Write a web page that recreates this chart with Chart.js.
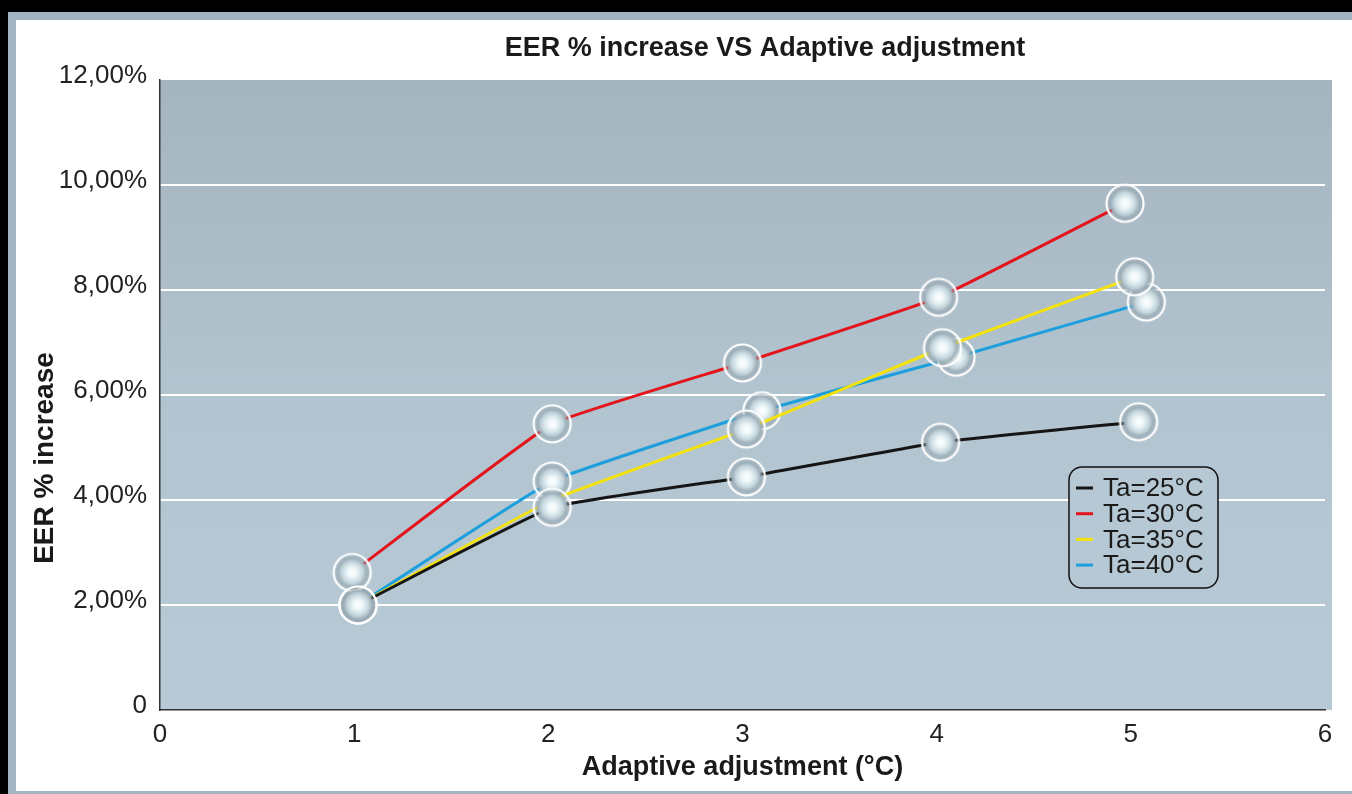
<!DOCTYPE html>
<html>
<head>
<meta charset="utf-8">
<script src="https://cdn.jsdelivr.net/npm/chart.js@4.4.1/dist/chart.umd.min.js"></script>
<style>
  body { margin: 0; background: #000; width: 1352px; height: 794px; overflow: hidden; }
  #frame { position: absolute; left: 8px; top: 12px; width: 1344px; height: 782px; background: #a3b5c2; }
  #panel { position: absolute; left: 8px; top: 8px; width: 1336px; height: 771px; background: #fff; }
</style>
</head>
<body>
<div id="frame"><div id="panel"><canvas id="myChart" width="1336" height="771"></canvas></div></div>
<script>
const chartTitle = 'EER % increase VS Adaptive adjustment';
const xTitle = 'Adaptive adjustment (°C)';
const yTitle = 'EER % increase';

const xTicks = [0, 1, 2, 3, 4, 5, 6];
const yTicks = [0, 2, 4, 6, 8, 10, 12];

const seriesLabels = ['Ta=25°C', 'Ta=30°C', 'Ta=35°C', 'Ta=40°C'];

// marker positions (x in °C, y in %)
const xTa25 = [1.02, 2.02, 3.02, 4.02, 5.04];
const yTa25 = [2.00, 3.86, 4.44, 5.10, 5.49];
const xTa30 = [0.99, 2.02, 3.00, 4.01, 4.97];
const yTa30 = [2.62, 5.45, 6.61, 7.86, 9.65];
const xTa35 = [1.02, 2.02, 3.02, 4.03, 5.02];
const yTa35 = [2.00, 4.00, 5.35, 6.90, 8.25];
const xTa40 = [1.02, 2.02, 3.10, 4.10, 5.08];
const yTa40 = [2.00, 4.36, 5.70, 6.72, 7.77];

const lineColors = ['#151515', '#e3141c', '#f4e20c', '#1c9fdc'];
const font = "'Liberation Sans', Arial, sans-serif";

function toPoints(xs, ys) {
  return xs.map((x, i) => ({ x: x, y: ys[i] }));
}

// glassy round marker
function makeMarker() {
  const c = document.createElement('canvas');
  c.width = 44; c.height = 44;
  const g = c.getContext('2d');
  g.beginPath(); g.arc(22, 22, 18, 0, Math.PI * 2);
  g.fillStyle = 'rgba(150,166,176,0.45)'; g.fill();
  const rg = g.createRadialGradient(22, 22, 0, 22, 22, 15);
  rg.addColorStop(0, '#ffffff');
  rg.addColorStop(0.3, '#eef8fa');
  rg.addColorStop(0.7, '#c6d7de');
  rg.addColorStop(1, 'rgba(150,168,178,0.9)');
  g.beginPath(); g.arc(22, 22, 15, 0, Math.PI * 2);
  g.fillStyle = rg; g.fill();
  g.beginPath(); g.arc(22, 22, 18.5, 0, Math.PI * 2);
  g.strokeStyle = '#ffffff'; g.lineWidth = 2.2; g.stroke();
  return c;
}
const marker = makeMarker();

const plotBackground = {
  id: 'plotBackground',
  beforeDraw(chart) {
    const { ctx, chartArea: a } = chart;
    const grad = ctx.createLinearGradient(0, a.top, 0, a.bottom);
    grad.addColorStop(0, '#a4b4c0');
    grad.addColorStop(0.5, '#b2c4cf');
    grad.addColorStop(1, '#b7cad6');
    ctx.save();
    ctx.fillStyle = grad;
    ctx.fillRect(a.left, a.top, a.right - a.left + 7, a.bottom - a.top);
    ctx.restore();
  }
};

const extraText = {
  id: 'extraText',
  afterDraw(chart) {
    const ctx = chart.ctx;
    ctx.save();
    ctx.fillStyle = '#1a1a1a';
    ctx.font = 'bold 27px ' + font;
    ctx.textAlign = 'center';
    ctx.textBaseline = 'middle';
    ctx.fillText(chartTitle, 749, 29);

    ctx.translate(29, 438);
    ctx.rotate(-Math.PI / 2);
    ctx.font = 'bold 28px ' + font;
    ctx.fillText(yTitle, 0, 0);
    ctx.restore();

    // legend box
    ctx.save();
    ctx.beginPath();
    ctx.roundRect(1053, 447, 149, 121, 13);
    ctx.fillStyle = '#b6c8d3';
    ctx.fill();
    ctx.lineWidth = 1.5;
    ctx.strokeStyle = '#111';
    ctx.stroke();
    ctx.font = '26px ' + font;
    ctx.textAlign = 'left';
    ctx.textBaseline = 'middle';
    chart.data.datasets.forEach((ds, i) => {
      const y = 468 + i * 25.7;
      ctx.beginPath();
      ctx.moveTo(1060, y);
      ctx.lineTo(1077, y);
      ctx.strokeStyle = ds.borderColor;
      ctx.lineWidth = 3;
      ctx.stroke();
      ctx.fillStyle = '#1a1a1a';
      ctx.fillText(ds.label, 1087, y + 1);
    });
    ctx.restore();
  }
};

const myDataset = [
  { label: seriesLabels[0], data: toPoints(xTa25, yTa25), borderColor: lineColors[0] },
  { label: seriesLabels[1], data: toPoints(xTa30, yTa30), borderColor: lineColors[1] },
  { label: seriesLabels[2], data: toPoints(xTa35, yTa35), borderColor: lineColors[2], pointRadius: [3, 0, 3, 3, 3] },
  { label: seriesLabels[3], data: toPoints(xTa40, yTa40), borderColor: lineColors[3] }
].map(ds => Object.assign({
  showLine: true,
  borderWidth: 3,
  tension: 0.1,
  pointStyle: marker,
  pointRadius: 3,
  backgroundColor: 'transparent'
}, ds));

const myOptions = {
  responsive: false,
  animation: false,
  layout: { padding: { top: 60, right: 27, bottom: 0, left: 0 } },
  plugins: {
    legend: { display: false },
    tooltip: { enabled: false }
  },
  scales: {
    x: {
      type: 'linear',
      min: 0,
      max: 6,
      afterBuildTicks: s => { s.ticks = xTicks.map(v => ({ value: v })); },
      afterFit: s => { s.height = 81; },
      grid: { display: false, drawTicks: false },
      border: { display: true, color: '#333', width: 1.5 },
      ticks: { color: '#222', font: { family: font, size: 26 }, padding: 9, maxRotation: 0 },
      title: { display: true, text: xTitle, color: '#1a1a1a', font: { family: font, size: 27, weight: 'bold' }, padding: { top: 0, bottom: 7 } }
    },
    y: {
      min: 0,
      max: 12,
      afterBuildTicks: s => { s.ticks = yTicks.map(v => ({ value: v })); },
      afterFit: s => { s.width = 144; },
      grid: {
        drawTicks: false,
        color: c => (c.tick && c.tick.value > 0 && c.tick.value < 12) ? '#ffffff' : 'rgba(0,0,0,0)',
        lineWidth: 2
      },
      border: { display: true, color: '#333', width: 1.5 },
      ticks: {
        color: '#222',
        font: { family: font, size: 26 },
        padding: 13,
        labelOffset: -4,
        callback: v => v === 0 ? '0' : v.toFixed(2).replace('.', ',') + '%'
      }
    }
  }
};

new Chart(document.getElementById('myChart'), {
  type: 'scatter',
  data: { datasets: myDataset },
  options: myOptions,
  plugins: [plotBackground, extraText]
});
</script>
</body>
</html>
